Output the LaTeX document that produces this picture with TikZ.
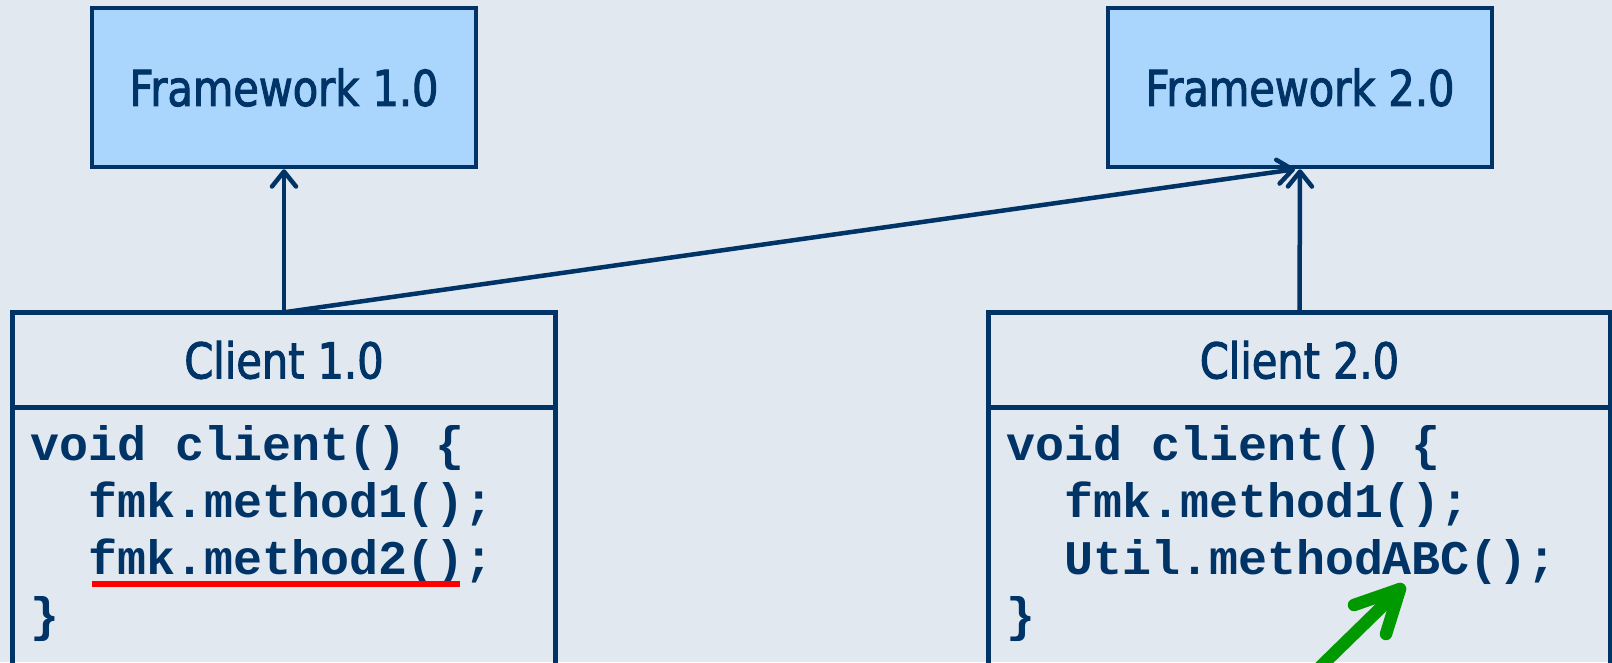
\documentclass[tikz,border=0pt]{standalone}
\usepackage{fontspec}
\usetikzlibrary{arrows.meta,calc}
\newfontfamily\titlefont[FakeStretch=0.84,FakeBold=2]{DejaVu Sans}
\newfontfamily\codefont{Liberation Mono}
\definecolor{navy}{RGB}{0,51,102}
\definecolor{bgc}{RGB}{226,232,240}
\definecolor{fwfill}{RGB}{170,213,252}
\definecolor{uline}{RGB}{255,0,0}
\definecolor{garrow}{RGB}{0,153,0}
\tikzset{
  box/.style={draw=navy, line width=4.5pt, inner sep=0pt, text=navy,
    font=\titlefont\fontsize{49.4}{59}\selectfont},
  fwbox/.style={box, fill=fwfill, minimum width=384pt, minimum height=159pt},
  clbox/.style={box, outer sep=0pt, minimum height=95.4pt},
  bodybox/.style={draw=navy, line width=4.5pt, inner sep=0pt, outer sep=0pt, minimum height=330pt, anchor=north},
  codeline/.style={anchor=base west, inner sep=0pt, text=navy,
    font=\codefont\bfseries\fontsize{48.3}{57}\selectfont},
  link/.style={draw=navy, line width=4.5pt, -{Straight Barb[length=15pt,width=24pt,line cap=round,line join=round]}},
  redline/.style={draw=uline, line width=6pt},
  greenline/.style={draw=garrow, line width=12.5pt, line cap=round, line join=round}
}
\begin{document}
\begin{tikzpicture}[x=1pt,y=-1pt]
\fill[bgc] (0,0) rectangle (1612,662);
\useasboundingbox (0,0) rectangle (1612,662);

% framework boxes
\node[fwbox] (fw1) at (284,87.5) {Framework 1.0};
\node[fwbox] (fw2) at (1300,87.5) {Framework 2.0};

% client boxes
\node[clbox, minimum width=543pt] (c1) at (284,360) {Client 1.0};
\node[bodybox, minimum width=543pt] (c1body) at (c1.south) {};
\node[clbox, minimum width=622pt] (c2) at (1299.5,360) {Client 2.0};
\node[bodybox, minimum width=622pt] (c2body) at (c2.south) {};

% code of client 1.0
\node[codeline] (l11) at ($(c1body.north west)+(17.5,52.3)$) {void client() \{};
\node[codeline] (l12) at ($(l11.base west)+(58,57)$) {fmk.method1();};
\node[codeline] (l13) at ($(l12.base west)+(0,57)$) {fmk.method2();};
\node[codeline] (l14) at ($(l11.base west)+(0,171)$) {\}};

% code of client 2.0
\node[codeline] (l21) at ($(c2body.north west)+(17.5,52.3)$) {void client() \{};
\node[codeline] (l22) at ($(l21.base west)+(58,57)$) {fmk.method1();};
\node[codeline] (l23) at ($(l22.base west)+(0,57)$) {Util.methodABC();};
\node[codeline] (l24) at ($(l21.base west)+(0,171)$) {\}};

% connectors
\draw[link] (c1.north) -- (fw1.south);
\draw[link] (c1.north) -- ([xshift=-5pt]fw2.south);
\draw[link] (c2.north) -- (fw2.south);

% red underline
\coordinate (ul1) at ($(l13.base west)+(4,10)$);
\coordinate (ul2) at ($(l13.base west)+(372,10)$);
\draw[redline] (ul1) -- (ul2);

% green arrow
\coordinate (gtip) at (1400,589);
\coordinate (gtail) at (1316,671);
\draw[greenline] (gtail) -- (gtip);
\draw[greenline] ($(gtip)+(-46,16)$) -- (gtip) -- ($(gtip)+(-14,45)$);
\end{tikzpicture}
\end{document}
